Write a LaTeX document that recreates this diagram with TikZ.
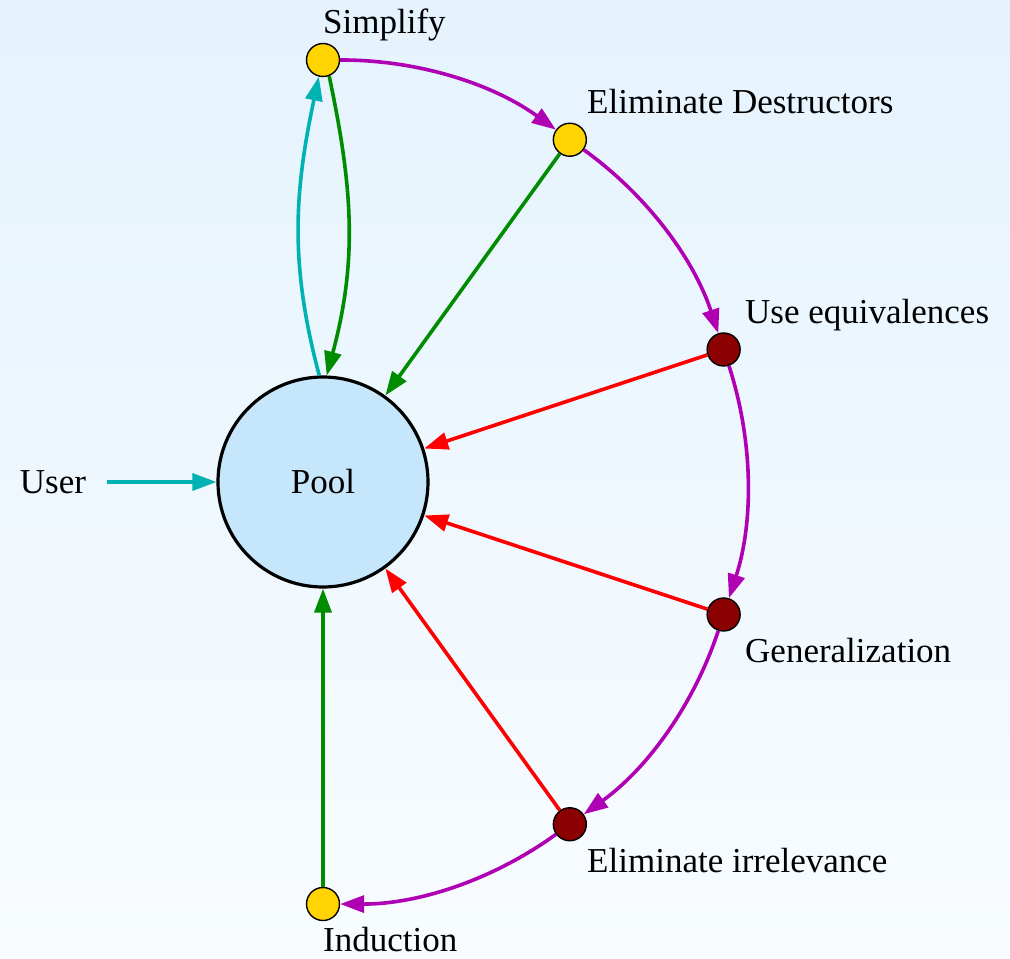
\documentclass[tikz,border=0pt]{standalone}
\usepackage{fontspec}
\setmainfont{Liberation Serif}
\usetikzlibrary{arrows.meta}
\definecolor{bgtop}{RGB}{229,243,253}
\definecolor{bgbot}{RGB}{248,252,255}
\definecolor{poolfill}{RGB}{197,230,251}
\definecolor{stepgold}{RGB}{255,212,0}
\definecolor{stepred}{RGB}{139,0,0}
\definecolor{arcmag}{RGB}{176,0,180}
\definecolor{usercyan}{RGB}{0,178,178}
\definecolor{backgreen}{RGB}{0,140,0}
\definecolor{failred}{RGB}{255,0,0}
\begin{document}
\begin{tikzpicture}[x=1pt,y=1pt,
  font=\fontsize{35}{40}\selectfont,
  tip/.style={-{Triangle[length=24pt,width=17pt]}},
  conn/.style={tip,line width=3.6pt},
  ringedge/.style={conn,draw=arcmag,bend left=18,looseness=0.88},
  cyanedge/.style={conn,draw=usercyan},
  greenedge/.style={conn,draw=backgreen},
  rededge/.style={conn,draw=failred},
  dot/.style={circle,draw=black,line width=1.4pt,minimum size=33pt,inner sep=0pt},
  golddot/.style={dot,fill=stepgold},
  reddot/.style={dot,fill=stepred},
  lbl/.style={anchor=base west,inner sep=0pt,text=black},
]
% background
\useasboundingbox (-323,-477) rectangle (687,482);
\shade[top color=bgtop,bottom color=bgbot] (-323,-477) rectangle (687,482);

% central pool
\node[circle,draw=black,line width=3.2pt,fill=poolfill,minimum size=210pt,inner sep=0pt] (pool) at (0,0) {Pool};

% processes on the ring
\node[golddot] (simp) at (90:422) {};
\node[golddot] (elim) at (54.2:422) {};
\node[reddot]  (equiv) at (18.3:422) {};
\node[reddot]  (gen) at (-18.3:422) {};
\node[reddot]  (irr) at (-54.2:422) {};
\node[golddot] (ind) at (-90:422) {};

% labels
\node[lbl] (simpL) at (0,448) {Simplify};
\node[lbl] (elimL) at (264,368) {Eliminate Destructors};
\node[lbl] (equivL) at (422,158) {Use equivalences};
\node[lbl] (genL) at (422,-180) {Generalization};
\node[lbl] (irrL) at (264,-390) {Eliminate irrelevance};
\node[lbl] (indL) at (0,-469) {Induction};
\node[inner xsep=21pt,inner ysep=0pt] (user) at (-270,0) {User};

% waterfall around the ring
\draw[ringedge] (simp) to (elim);
\draw[ringedge] (elim) to (equiv);
\draw[ringedge] (equiv) to (gen);
\draw[ringedge] (gen) to (irr);
\draw[ringedge] (irr) to (ind);

% edges into and out of the pool
\draw[cyanedge] (user) -- (pool);
\draw[cyanedge] (pool.92) to[out=105,in=-102] (simp.-104);
\draw[greenedge] (simp.-69) to[out=-78,in=75] (pool.88);
\draw[greenedge] (elim) -- (pool);
\draw[rededge] (equiv) -- (pool);
\draw[rededge] (gen) -- (pool);
\draw[rededge] (irr) -- (pool);
\draw[greenedge] (ind) -- (pool);
\end{tikzpicture}
\end{document}
